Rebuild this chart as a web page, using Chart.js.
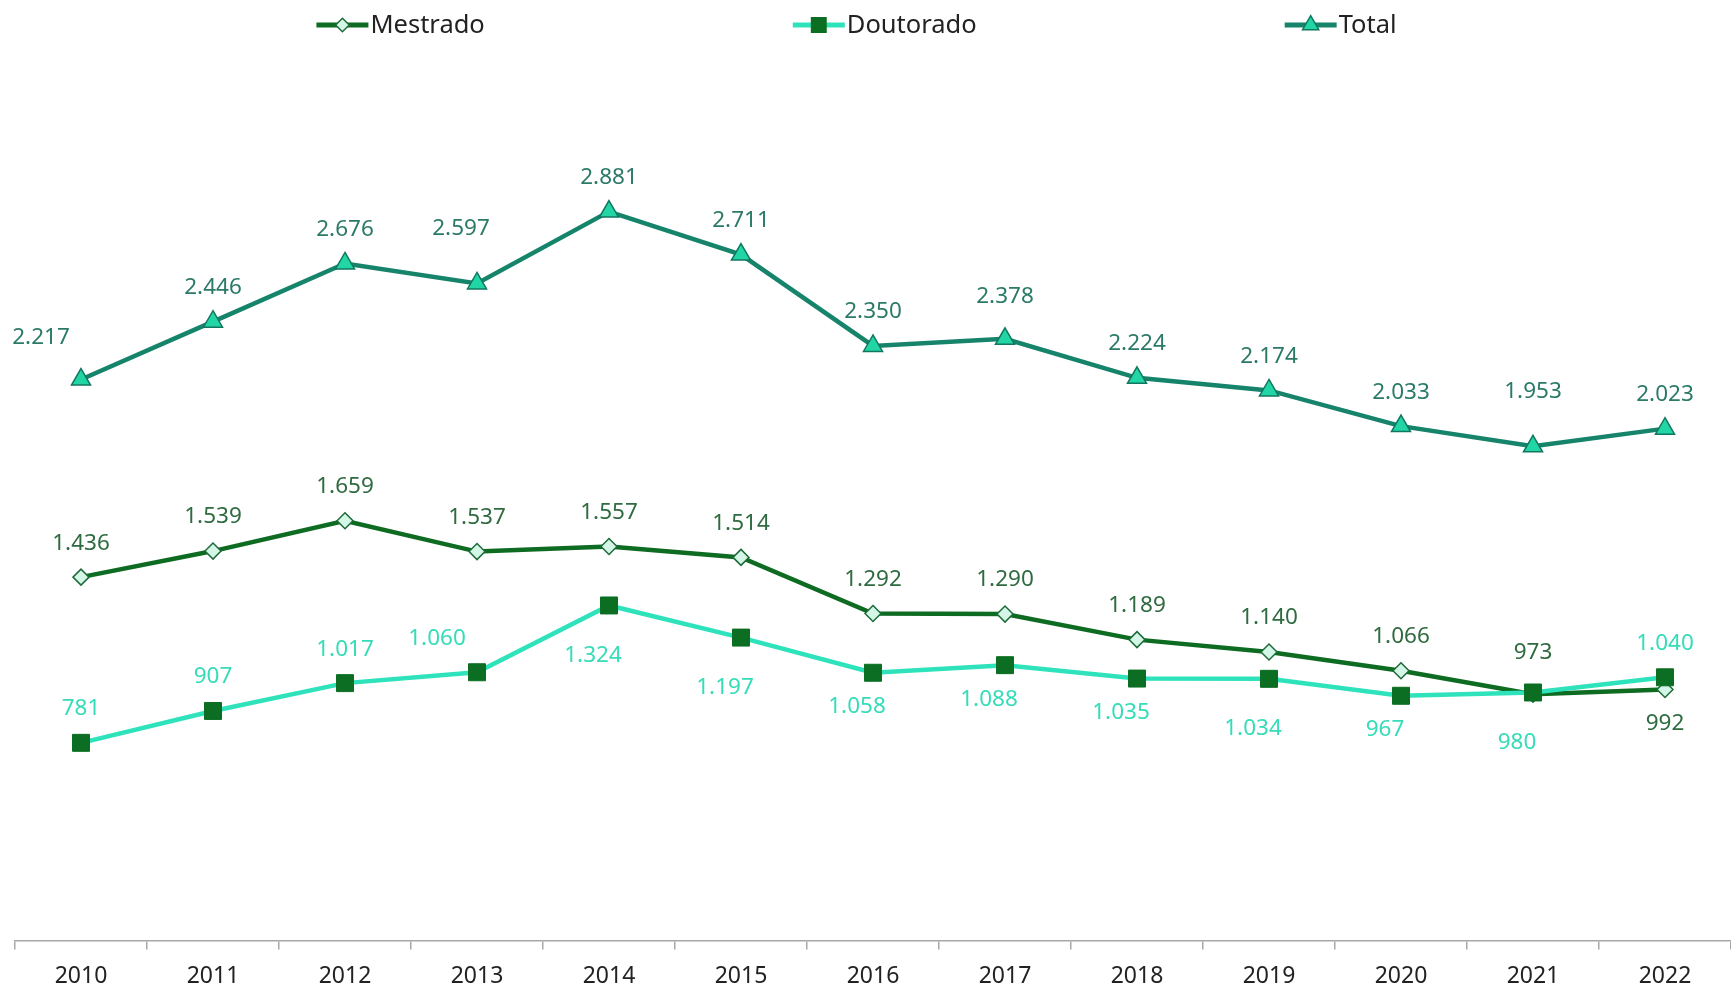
<!DOCTYPE html>
<html>
<head>
<meta charset="utf-8">
<script src="https://cdn.jsdelivr.net/npm/chart.js@4"></script>
<style>
  html, body { margin: 0; padding: 0; background: #fff; overflow: hidden; }
  #wrap { width: 1731px; height: 991px; position: relative; }
  canvas { display: block; }
</style>
</head>
<body>
<div id="wrap"><canvas id="grafico"></canvas></div>
<script>
// dados
const anos = ['2010', '2011', '2012', '2013', '2014', '2015', '2016', '2017', '2018', '2019', '2020', '2021', '2022'];
const mestrado = [1436, 1539, 1659, 1537, 1557, 1514, 1292, 1290, 1189, 1140, 1066, 973, 992];
const doutorado = [781, 907, 1017, 1060, 1324, 1197, 1058, 1088, 1035, 1034, 967, 980, 1040];
const total = [2217, 2446, 2676, 2597, 2881, 2711, 2350, 2378, 2224, 2174, 2033, 1953, 2023];

// posição dos rótulos: a = acima, m/A = mais acima, b = abaixo, B = mais abaixo, l = à esquerda, L = bem à esquerda
const posMestrado = ['a', 'a', 'a', 'a', 'a', 'a', 'a', 'a', 'a', 'a', 'a', 'm', 'b'];
const posDoutorado = ['a', 'a', 'a', 'aL', 'Bl', 'Bl', 'bl', 'bl', 'bl', 'Bl', 'bl', 'Bl', 'a'];
const posTotal = ['mL', 'a', 'a', 'Al', 'a', 'a', 'a', 'm', 'a', 'a', 'a', 'A', 'a'];

const FONTE = '"Noto Sans", sans-serif';

function fmt(v) {
    return String(v).replace(/\B(?=(\d{3})+(?!\d))/g, '.');
}

function marcador(ctx, estilo, x, y, r, fundo, borda, lw) {
    ctx.beginPath();
    if (estilo === 'triangle') {
        ctx.moveTo(x, y - r);
        ctx.lineTo(x + r * 0.866, y + r * 0.5);
        ctx.lineTo(x - r * 0.866, y + r * 0.5);
        ctx.closePath();
    } else if (estilo === 'rectRot') {
        ctx.moveTo(x, y - r);
        ctx.lineTo(x + r, y);
        ctx.lineTo(x, y + r);
        ctx.lineTo(x - r, y);
        ctx.closePath();
    } else {
        const s = r * Math.SQRT1_2;
        ctx.rect(x - s, y - s, 2 * s, 2 * s);
    }
    ctx.fillStyle = fundo;
    ctx.fill();
    ctx.lineWidth = lw;
    ctx.strokeStyle = borda;
    ctx.stroke();
}

const desloc = { a: -34, m: -42, A: -55, b: 34, B: 50 };

const rotulos = {
    id: 'rotulos',
    afterDatasetsDraw(chart) {
        const ctx = chart.ctx;
        ctx.save();
        ctx.font = '22.5px ' + FONTE;
        ctx.textAlign = 'center';
        ctx.textBaseline = 'middle';
        chart.data.datasets.forEach((ds, i) => {
            const meta = chart.getDatasetMeta(i);
            ctx.fillStyle = ds.corRotulo;
            meta.data.forEach((pt, j) => {
                const p = ds.posRotulo[j];
                let dx = 0;
                const dy = desloc[p[0]];
                if (p.indexOf('l') > 0) dx = -16;
                if (p.indexOf('L') > 0) dx = -40;
                ctx.fillText(fmt(ds.data[j]), pt.x + dx, pt.y + dy);
            });
        });
        ctx.restore();
    }
};

const legenda = {
    id: 'legenda',
    afterDraw(chart) {
        const ctx = chart.ctx;
        ctx.save();
        ctx.font = '25.5px ' + FONTE;
        ctx.textBaseline = 'middle';
        const linha = 52, gap = 308, y = 25;
        const itens = chart.data.datasets.map(ds => ({ ds: ds, w: linha + 2 + ctx.measureText(ds.label).width }));
        const larg = itens.reduce((s, it) => s + it.w, 0) + gap * (itens.length - 1);
        let x = chart.width / 2 - 9 - larg / 2;
        itens.forEach(it => {
            const ds = it.ds;
            ctx.strokeStyle = ds.borderColor;
            ctx.lineWidth = 5;
            ctx.beginPath();
            ctx.moveTo(x, y);
            ctx.lineTo(x + linha, y);
            ctx.stroke();
            marcador(ctx, ds.pointStyle, x + linha / 2, y, ds.pointRadius * 0.85, ds.pointBackgroundColor, ds.pointBorderColor, 1.5);
            ctx.fillStyle = '#222';
            ctx.fillText(ds.label, x + linha + 2, y + 1);
            x += it.w + gap;
        });
        ctx.restore();
    }
};

new Chart('grafico', {
    type: 'line',
    data: {
        labels: anos,
        datasets: [{
            label: 'Mestrado',
            data: mestrado,
            order: 1,
            borderColor: '#0e6b22',
            borderWidth: 4.5,
            pointStyle: 'rectRot',
            pointRadius: 8,
            pointBackgroundColor: '#d3f6e6',
            pointBorderColor: '#1d6b3a',
            pointBorderWidth: 1.5,
            corRotulo: '#2f6b40',
            posRotulo: posMestrado
        }, {
            label: 'Doutorado',
            data: doutorado,
            order: 0,
            borderColor: '#2ee3bb',
            borderWidth: 4.5,
            pointStyle: 'rect',
            pointRadius: 12,
            pointBackgroundColor: '#0b6e22',
            pointBorderColor: '#0b6e22',
            pointBorderWidth: 1,
            corRotulo: '#36dcb8',
            posRotulo: posDoutorado
        }, {
            label: 'Total',
            data: total,
            order: 2,
            borderColor: '#16846a',
            borderWidth: 4.5,
            pointStyle: 'triangle',
            pointRadius: 11,
            pointBackgroundColor: '#22d5a5',
            pointBorderColor: '#127760',
            pointBorderWidth: 1.5,
            corRotulo: '#2b7a68',
            posRotulo: posTotal
        }]
    },
    options: {
        responsive: true,
        maintainAspectRatio: false,
        animation: false,
        layout: { autoPadding: false, padding: { top: 55, left: 15, right: 0, bottom: -12 } },
        plugins: {
            legend: { display: false },
            tooltip: { enabled: false }
        },
        elements: { line: { tension: 0 } },
        scales: {
            x: {
                offset: true,
                grid: { display: true, offset: true, drawOnChartArea: false, tickLength: 9, color: '#a8a8a8', lineWidth: 1.5 },
                border: { display: true, color: '#a8a8a8', width: 1.5 },
                ticks: { color: '#222', font: { family: FONTE, size: 23 }, padding: 13 }
            },
            y: { display: false, min: 0, max: 3500 }
        }
    },
    plugins: [rotulos, legenda]
});
</script>
</body>
</html>
